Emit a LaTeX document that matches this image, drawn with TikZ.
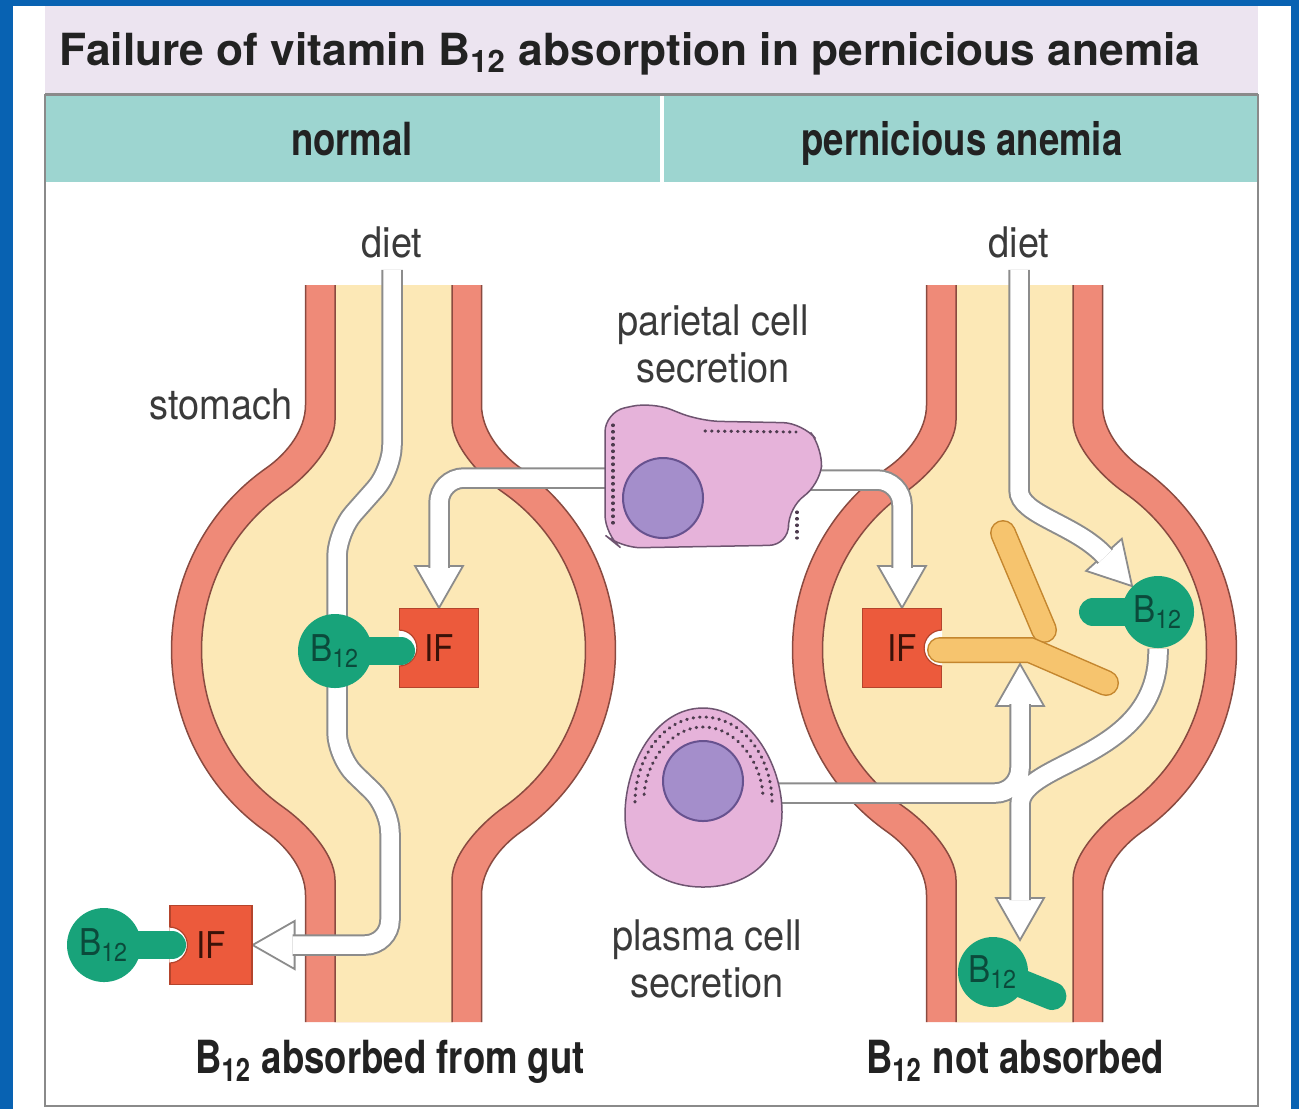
\documentclass[tikz,border=0pt]{standalone}
\usepackage{fontspec}
\setmainfont{TeX Gyre Heros}
\newfontfamily\labelfont[FakeStretch=0.9]{TeX Gyre Heros}
\newfontfamily\headfont[FakeStretch=0.8]{TeX Gyre Heros}
\usepackage{tikz}
\usetikzlibrary{calc}
\pgfdeclarelayer{back}
\pgfsetlayers{back,main}

\definecolor{FrameBlue}{HTML}{0862B2}
\definecolor{TitleLilac}{HTML}{ECE4F0}
\definecolor{HeadTeal}{HTML}{9DD5D0}
\definecolor{PanelGrey}{HTML}{8A8A8A}
\definecolor{HeadText}{HTML}{222222}
\definecolor{TextGrey}{HTML}{3A3A3A}
\definecolor{WallRed}{HTML}{EF8A78}
\definecolor{WallEdge}{HTML}{8A4A40}
\definecolor{Lumen}{HTML}{FCE8B6}
\definecolor{TubeGrey}{HTML}{8C8C8C}
\definecolor{IFRed}{HTML}{EC5A3C}
\definecolor{IFEdge}{HTML}{B4442C}
\definecolor{IFText}{HTML}{3A1208}
\definecolor{KeyGreen}{HTML}{18A37A}
\definecolor{KeyText}{HTML}{0B4A3B}
\definecolor{CellPink}{HTML}{E6B3DA}
\definecolor{CellEdge}{HTML}{6E5470}
\definecolor{Nucleus}{HTML}{A48ECB}
\definecolor{NucEdge}{HTML}{67528F}
\definecolor{AbOrange}{HTML}{F6C46E}
\definecolor{AbEdge}{HTML}{C4862E}

\tikzset{
  walledge/.style={draw=WallEdge, line width=0.15mm},
  tube/.style={draw=white, line width=1.75mm, rounded corners=2.5mm,
    preaction={draw=TubeGrey, line width=2.15mm}},
  tubehead/.pic={\filldraw[fill=white, draw=TubeGrey, line width=0.18mm]
    (0,0) -- (-42,24) -- (-42,-24) -- cycle;},
  ifbox/.style={rectangle, fill=IFRed, draw=IFEdge, line width=0.12mm,
    minimum width=7.9mm, minimum height=7.9mm, inner sep=0pt,
    font=\labelfont\fontsize{10.5}{11}\selectfont, text=IFText},
  keyball/.style={circle, fill=KeyGreen, minimum size=7.4mm, inner sep=0pt,
    font=\labelfont\fontsize{10.5}{11}\selectfont, text=KeyText},
  keystem/.style={draw=KeyGreen, line width=2.8mm, line cap=round},
  abbar/.style={draw=AbEdge, double=AbOrange, line width=0.15mm,
    double distance=2.3mm, line cap=round},
  cellbody/.style={fill=CellPink, draw=CellEdge, line width=0.15mm},
  nucleus/.style={fill=Nucleus, draw=NucEdge, line width=0.2mm},
  stipple/.style={draw=CellEdge!70!black, line width=0.32mm, line cap=round,
    dash pattern=on 0.05mm off 0.6mm}
}

% stomach outline halves, relative to the centre line of the gut
\newcommand{\wallOutL}{(-88,285) -- (-88,405) .. controls (-88,430) and (-106.5,453.6) .. (-127.3,468.1)
  arc[start angle=235,end angle=125,radius=222]
  .. controls (-106.8,846.3) and (-88,870) .. (-88,895) -- (-88,1022)}
\newcommand{\wallOutR}{(88,1022) -- (88,895) .. controls (88,870) and (106.8,846.3) .. (127.3,831.9)
  arc[start angle=55,end angle=-55,radius=222]
  .. controls (106.5,453.6) and (88,430) .. (88,405) -- (88,285)}
\newcommand{\wallInL}{(-58.5,285) -- (-58.5,420) .. controls (-58.5,447) and (-89.5,478.6) .. (-110.1,492.7)
  arc[start angle=235,end angle=125,radius=192]
  .. controls (-89.6,821.7) and (-58.5,853) .. (-58.5,880) -- (-58.5,1022)}
\newcommand{\wallInR}{(58.5,1022) -- (58.5,880) .. controls (58.5,853) and (89.6,821.7) .. (110.1,807.3)
  arc[start angle=55,end angle=-55,radius=192]
  .. controls (89.5,478.6) and (58.5,447) .. (58.5,420) -- (58.5,285)}
\newcommand{\stomach}[1]{%
  \begin{scope}[shift={(#1,0)}]
    \fill[WallRed] \wallOutL -- \wallOutR -- cycle;
    \fill[Lumen] \wallInL -- \wallInR -- cycle;
    \draw[walledge] \wallOutL; \draw[walledge] \wallOutR;
    \draw[walledge] \wallInL;  \draw[walledge] \wallInR;
  \end{scope}}

\begin{document}
\begin{tikzpicture}[x=0.1mm, y=-0.1mm,
  lbl/.style={font=\labelfont\fontsize{12}{13.4}\selectfont, text=TextGrey, align=center, inner sep=1pt},
  hdr/.style={font=\headfont\bfseries\fontsize{13}{15}\selectfont, text=HeadText, inner sep=0pt}]
\useasboundingbox (0,0) rectangle (1299,1109);

% headings
\node[font=\bfseries\fontsize{12.6}{15}\selectfont, text=HeadText, anchor=base, inner sep=0pt]
  (title) at (630,65) {Failure of vitamin B\textsubscript{12} absorption in pernicious anemia};
\node[hdr, anchor=base] (colN) at (352,155) {normal};
\node[hdr, anchor=base] (colP) at (962,155) {pernicious anemia};

% labels
\node[lbl, anchor=base] (dietL) at (392,257) {diet};
\node[lbl, anchor=base] (dietR) at (1019,257) {diet};
\node[lbl, anchor=base] (stomachL) at (221,419) {stomach};
\node[lbl] (parText) at (713,344) {parietal cell\\secretion};
\node[lbl] (plasText) at (707,959) {plasma cell\\secretion};
\node[hdr, anchor=base] (resN) at (390,1073) {B\textsubscript{12} absorbed from gut};
\node[hdr, anchor=base] (resP) at (1015,1073) {B\textsubscript{12} not absorbed};

% parietal cell
\filldraw[cellbody, rounded corners=2mm] (605,412) -- (652,402) -- (700,421) -- (803,423)
  -- (823,448) -- (820,485) -- (788,507) -- (789,545) -- (621,548) -- (605,535) -- cycle;
\draw[stipple] (613,425) -- (613,528);
\draw[stipple] (705,431) -- (796,432);
\draw[stipple] (797,512) -- (797,538);
\filldraw[nucleus] (663,498) circle[radius=40];
\coordinate (parL) at (620,478);
\coordinate (parR) at (810,480);

% plasma cell
\filldraw[cellbody] (703,708) .. controls (655,708) and (625,765) .. (625,815)
  .. controls (625,862) and (660,887) .. (703,887) .. controls (748,887) and (782,860) .. (782,812)
  .. controls (782,765) and (750,708) .. (703,708) -- cycle;
\draw[stipple] (635,802) .. controls (635,760) and (662,717) .. (703,717) .. controls (745,717) and (772,760) .. (772,802);
\draw[stipple, dash phase=0.3mm] (644,798) .. controls (644,767) and (668,727) .. (703,727) .. controls (739,727) and (763,767) .. (763,798);
\filldraw[nucleus] (703,781) circle[radius=40];
\coordinate (plasR) at (770,793);

% intrinsic factor
\node[ifbox] (ifL) at (439,648) {IF};
\node[ifbox] (ifR) at (902,648) {IF};
\node[ifbox, minimum width=8.2mm] (ifOut) at (211,945) {IF};
\foreach \n/\a in {ifL/west, ifOut/west, ifR/east} {
  \begin{scope}
    \clip (\n.south west) rectangle (\n.north east);
    \filldraw[fill=white, draw=IFEdge, line width=0.12mm] (\n.\a) circle[radius=18];
  \end{scope}
}

% antibody against IF
\draw[abbar] (1003,533) -- (1044,630);
\draw[abbar] (940,650) -- (1030,650) -- (1106,683);
\coordinate (abjoint) at (1020,664);

% vitamin B12
\coordinate (b12Lc) at (335,651);
\draw[keystem] (b12Lc) -- ++(66,0);
\node[keyball] (b12L) at (b12Lc) {B\textsubscript{12}};
\coordinate (b12Oc) at (104,945);
\draw[keystem] (b12Oc) -- ++(68,0);
\node[keyball] (b12Out) at (b12Oc) {B\textsubscript{12}};
\coordinate (b12Rc) at (1158,612);
\draw[keystem] (b12Rc) -- ++(180:65);
\node[keyball, minimum size=7.2mm] (b12R) at (b12Rc) {B\textsubscript{12}};
\coordinate (b12Bc) at (993,972);
\draw[keystem] (b12Bc) -- ++(22:64);
\node[keyball, minimum size=7mm] (b12Low) at (b12Bc) {B\textsubscript{12}};
\coordinate (sinkR) at (1020,940);

\begin{pgfonlayer}{back}
% frame and column heads
\fill[FrameBlue] (0,0) rectangle (1299,1109);
\fill[white] (13,6) rectangle (1291,1109);
\fill[TitleLilac] (45,6) rectangle (1258,93);
\fill[HeadTeal] (45,94) rectangle (1258,182);
\draw[white, line width=0.35mm] (662,94) -- (662,182);
\draw[PanelGrey, line width=0.3mm] (45,94) -- (1258,94);
\draw[PanelGrey, line width=0.25mm] (45,94) -- (45,1106) -- (1258,1106) -- (1258,94);

\stomach{393.5}
\stomach{1014.5}

% arrow heads, then the tubes
\pic[rotate=-90] at (ifL.north) {tubehead};
\pic[rotate=-90] at (ifR.north) {tubehead};
\pic[rotate=180] at (ifOut.east) {tubehead};
\pic[rotate=-48] at (b12R.north west) {tubehead};
\pic[rotate=90] at (abjoint) {tubehead};
\pic[rotate=-90] at (sinkR) {tubehead};

\draw[tube] ([yshift=-0.8mm]dietL.south) -- (392,470) -- (337,532) -- (337,757) -- (390,808)
  |- ([xshift=4mm]ifOut.east);
\draw[tube] (parL) -| ([yshift=4mm]ifL.north);
\draw[tube] (parR) -| ([yshift=4mm]ifR.north);
\draw[tube] ([yshift=-0.8mm]dietR.south) -- (1019,465) .. controls (1019,515) and (1076,524)
  .. ($(b12R.north west)+(-26.8,-29.7)$);
% plasma cell secretion and the unbound B12 share one crossing
\draw[tube] (plasR) -| ([yshift=-4mm]abjoint)
  (b12R.south) .. controls (1160,760) and (1020,760) .. (1020,830) -- ([yshift=4mm]sinkR);
\end{pgfonlayer}
\end{tikzpicture}
\end{document}
